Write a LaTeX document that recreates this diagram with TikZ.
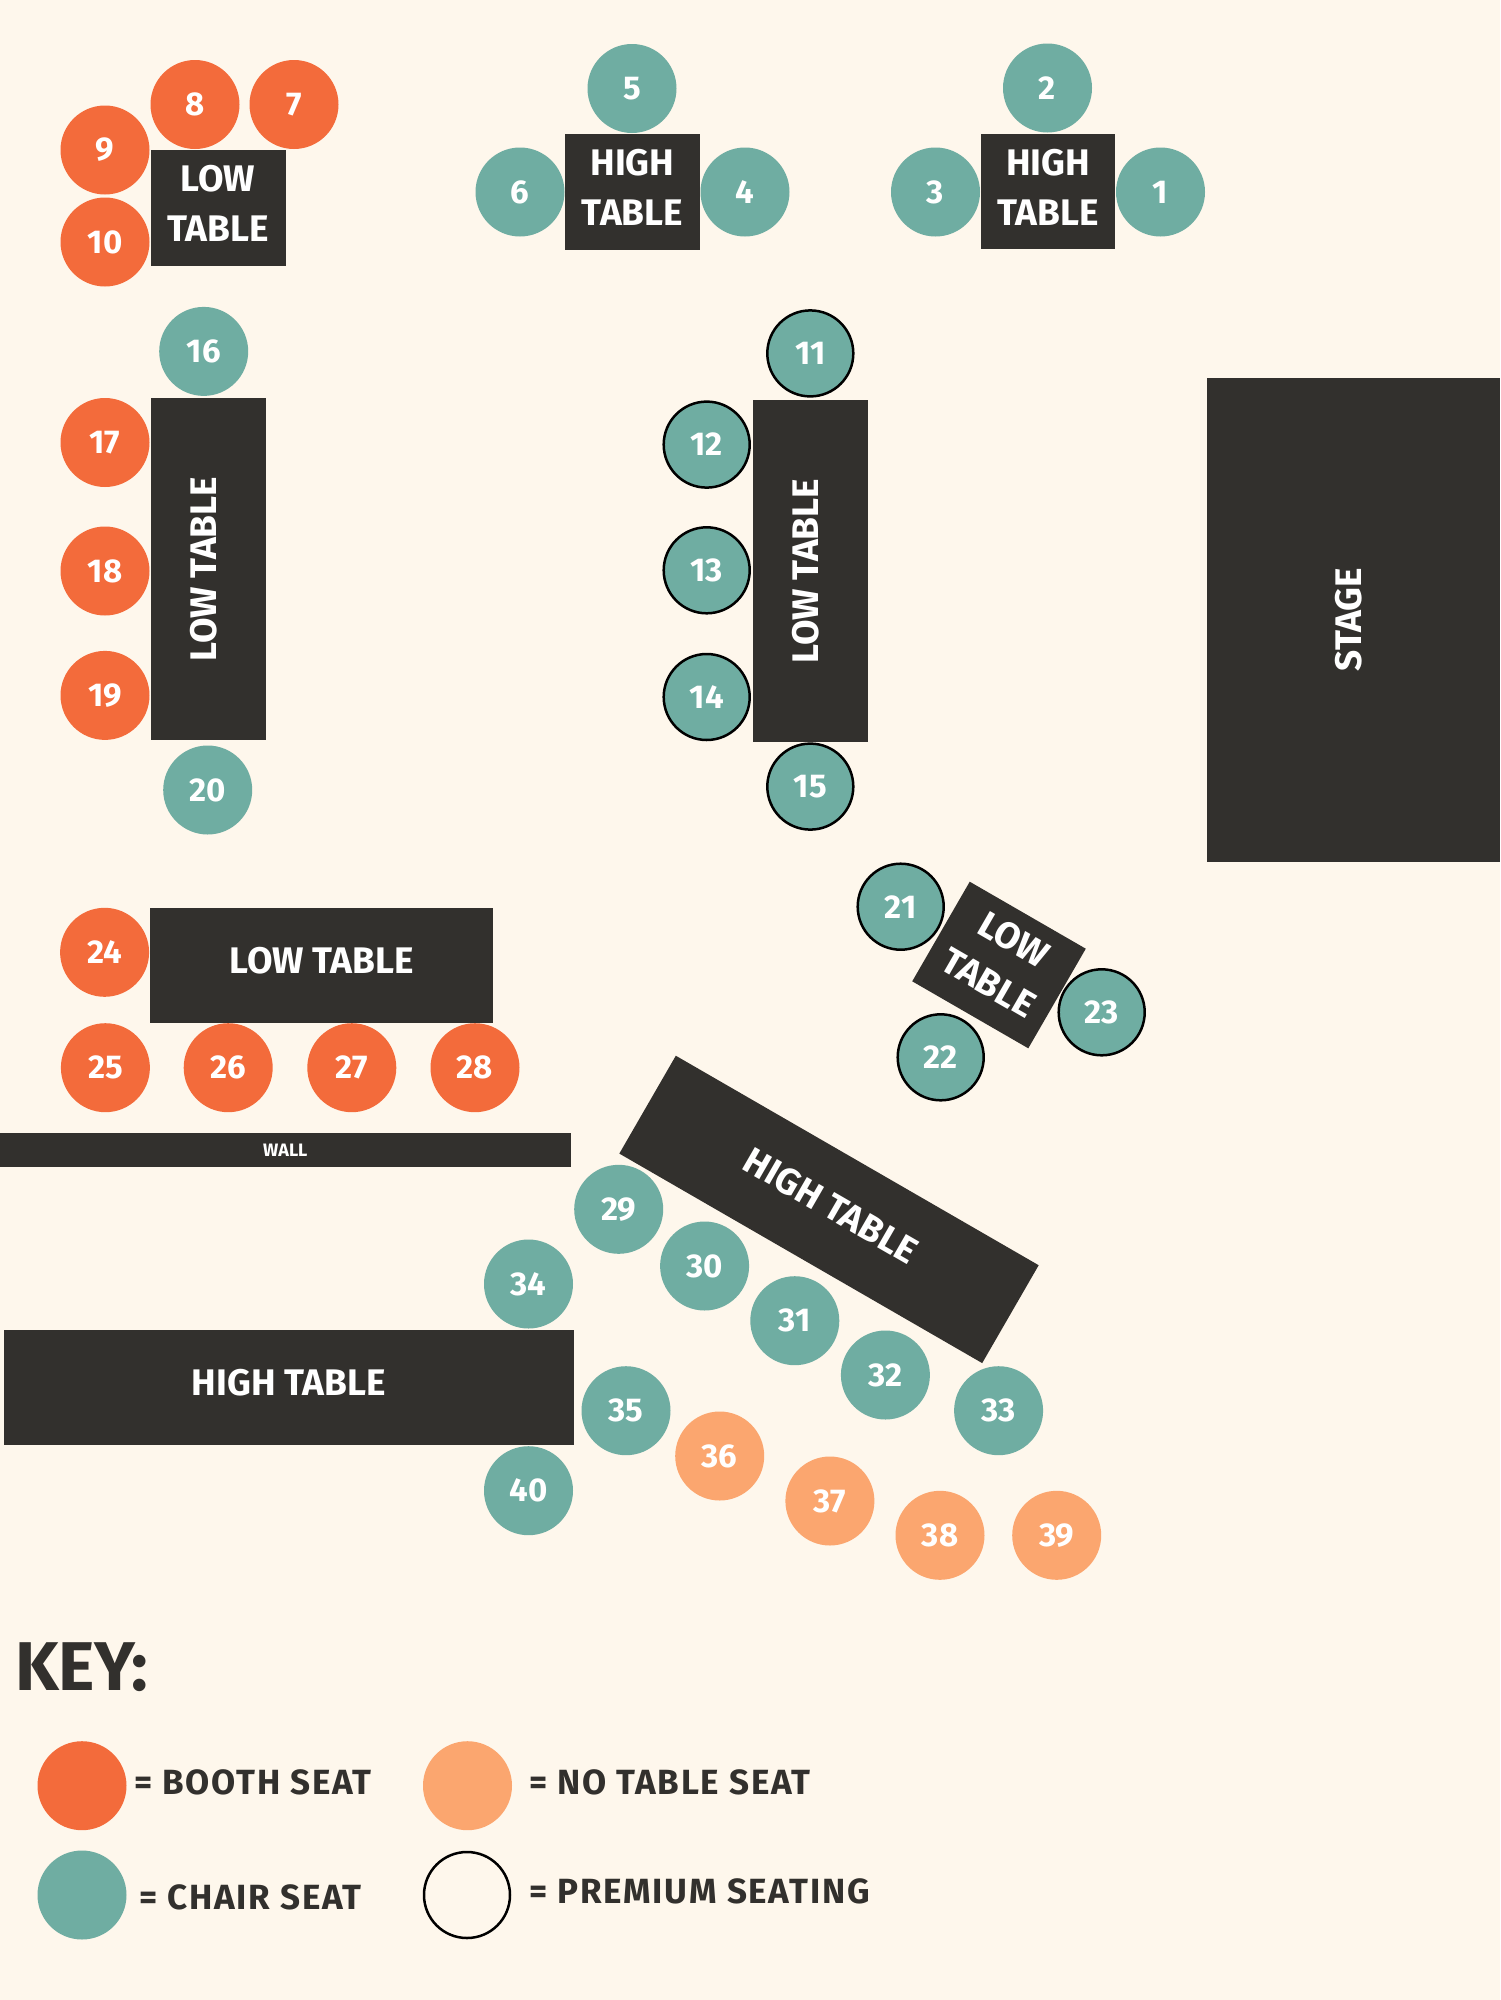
\documentclass[tikz,border=0pt]{standalone}
\usepackage{fontspec}
\setmainfont{Fira Sans}
\newfontfamily\keyfont{Fira Sans}[LetterSpace=5.0]
\definecolor{bgc}{HTML}{FEF7EC}
\definecolor{boothc}{HTML}{F36B3B}
\definecolor{chairc}{HTML}{6FADA2}
\definecolor{notablec}{HTML}{FBA66F}
\definecolor{tablec}{HTML}{32302D}
\begin{document}
\begin{tikzpicture}[x=1pt,y=-1pt,
  seat/.style={circle, minimum size=89pt, inner sep=0pt, text=white,
    font=\fontsize{33}{33}\selectfont\bfseries},
  booth/.style={seat, fill=boothc},
  chair/.style={seat, fill=chairc},
  notab/.style={seat, fill=notablec},
  prem/.style={draw=black, line width=2.5pt, minimum size=86pt},
  tbl/.style={rectangle, fill=tablec, inner sep=0pt, text=white, align=center,
    font=\fontsize{37}{50}\selectfont\bfseries, text depth=9pt},
  keytext/.style={anchor=west, inner sep=0pt, text=tablec,
    font=\keyfont\fontsize{35}{35}\selectfont\bfseries},
]
\fill[bgc] (0,0) rectangle (1500,2000);
\useasboundingbox (0,0) rectangle (1500,2000);

% ---- top-left low table
\node[tbl, minimum width=135pt, minimum height=116pt] (t1) at (218,208) {LOW\\TABLE};
\node[booth] (s8) at (195,104.5) {8};
\node[booth] (s7) at (294,104.5) {7};
\node[booth] (s9) at (105,150) {9};
\node[booth] (s10) at (105,242) {10};

% ---- top-middle high table
\node[tbl, minimum width=135pt, minimum height=116pt] (t2) at (632.5,192) {HIGH\\TABLE};
\node[chair] (s5) at (632,88.5) {5};
\node[chair] (s6) at (520,192) {6};
\node[chair] (s4) at (745,192) {4};

% ---- top-right high table
\node[tbl, minimum width=134pt, minimum height=115pt] (t3) at (1048,191.5) {HIGH\\TABLE};
\node[chair] (s2) at (1047.5,88) {2};
\node[chair] (s3) at (935.5,192) {3};
\node[chair] (s1) at (1160.5,192) {1};

% ---- left vertical low table
\node[tbl, rotate=90, minimum width=342pt, minimum height=115pt] (t4) at (208,569) {LOW TABLE};
\node[chair] (s16) at (203.7,351.4) {16};
\node[booth] (s17) at (105,442.5) {17};
\node[booth] (s18) at (105,571) {18};
\node[booth] (s19) at (105,695.4) {19};
\node[chair] (s20) at (207.7,790) {20};

% ---- middle vertical low table (premium)
\node[tbl, rotate=90, minimum width=342pt, minimum height=115pt] (t5) at (810,571) {LOW TABLE};
\node[chair, prem] (s11) at (810.3,353.4) {11};
\node[chair, prem] (s12) at (706.7,444.6) {12};
\node[chair, prem] (s13) at (706.7,570.3) {13};
\node[chair, prem] (s14) at (706.7,697) {14};
\node[chair, prem] (s15) at (810.3,786.6) {15};

% ---- stage
\node[tbl, rotate=90, minimum width=484.5pt, minimum height=293.4pt] (stage) at (1353.3,619.75) {STAGE};

% ---- rotated low table (premium)
\node[tbl, rotate=-30, minimum width=134pt, minimum height=115pt] (t6) at (999,965) {LOW\\TABLE};
\node[chair, prem] (s21) at (900.7,906.7) {21};
\node[chair, prem] (s22) at (940.7,1057.3) {22};
\node[chair, prem] (s23) at (1101.7,1012.3) {23};

% ---- horizontal low table
\node[tbl, minimum width=343pt, minimum height=115pt] (t7) at (321.8,965.2) {LOW TABLE};
\node[booth] (s24) at (104.6,952.3) {24};
\node[booth] (s25) at (105.4,1067.7) {25};
\node[booth] (s26) at (228.2,1067.7) {26};
\node[booth] (s27) at (351.8,1067.7) {27};
\node[booth] (s28) at (475,1067.7) {28};

% ---- wall
\node[rectangle, fill=tablec, inner sep=0pt, minimum width=570.6pt, minimum height=34pt,
  text=white, font=\fontsize{18}{18}\selectfont\bfseries] (wall) at (285.3,1150) {WALL};

% ---- diagonal high table
\node[tbl, rotate=-30, minimum width=419pt, minimum height=113pt] (t8) at (829,1209.4) {HIGH TABLE};
\node[chair] (s29) at (618.7,1209.3) {29};
\node[chair] (s30) at (704.6,1266) {30};
\node[chair] (s31) at (794.8,1320.7) {31};
\node[chair] (s32) at (885.4,1375) {32};
\node[chair] (s33) at (998.6,1410.7) {33};

% ---- bottom-left high table
\node[tbl, minimum width=570pt, minimum height=115pt] (t9) at (288.7,1387.3) {HIGH TABLE};
\node[chair] (s34) at (528.5,1284) {34};
\node[chair] (s35) at (626,1410.7) {35};
\node[chair] (s40) at (528.5,1490.7) {40};
\node[notab] (s36) at (719.7,1456) {36};
\node[notab] (s37) at (829.9,1501) {37};
\node[notab] (s38) at (940,1535.3) {38};
\node[notab] (s39) at (1056.7,1535.3) {39};

% ---- key
\node[anchor=west, inner sep=0pt, text=tablec, font=\fontsize{69}{69}\selectfont\bfseries] (keyt) at (15,1667.5) {KEY:};
\node[seat, fill=boothc] (kb) at (82,1785.7) {};
\node[keytext] (kbt) at (134,1782) {= BOOTH SEAT};
\node[seat, fill=chairc] (kc) at (82,1895) {};
\node[keytext] (kct) at (139,1897) {= CHAIR SEAT};
\node[seat, fill=notablec] (kn) at (467.5,1785.7) {};
\node[keytext] (knt) at (529,1782) {= NO TABLE SEAT};
\node[seat, prem] (kp) at (467,1895) {};
\node[keytext] (kpt) at (529,1891.7) {= PREMIUM SEATING};
\end{tikzpicture}
\end{document}
